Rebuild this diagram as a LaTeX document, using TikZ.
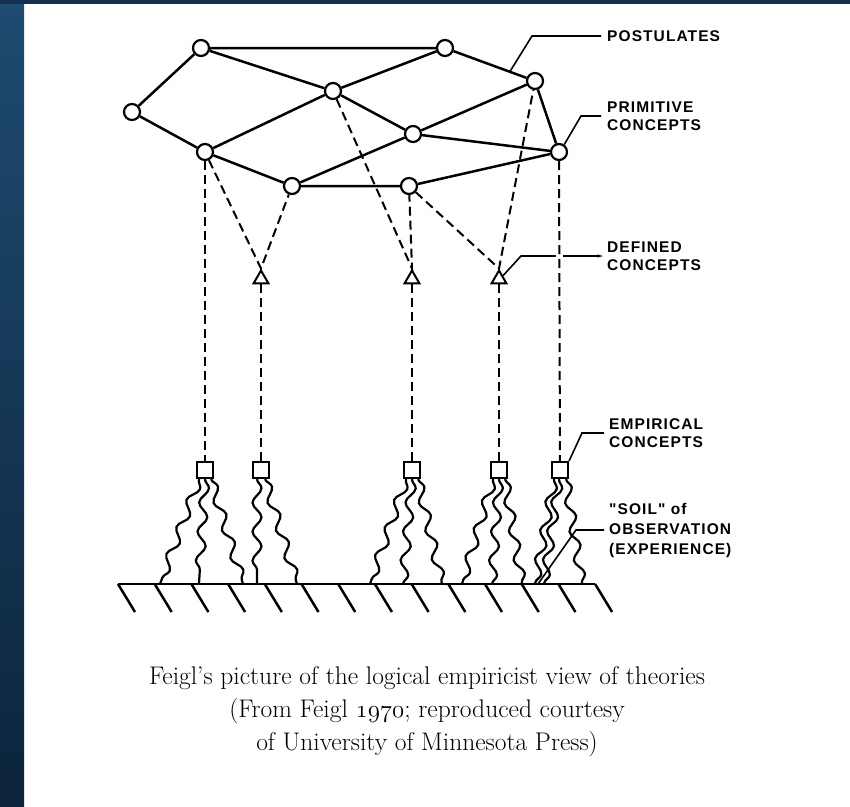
\documentclass[tikz,border=0pt]{standalone}
\usepackage{fontspec}
\newfontfamily\labfont[LetterSpace=7]{Liberation Sans}
\usetikzlibrary{arrows.meta, calc, shapes.geometric, decorations.pathmorphing}
\definecolor{frametop}{RGB}{30,75,112}
\definecolor{framebot}{RGB}{12,36,60}
\definecolor{framebar}{RGB}{20,50,80}

\begin{document}
\begin{tikzpicture}[x=1pt, y=-1pt,
    concept/.style={circle, draw, fill=white, inner sep=0pt, minimum size=16pt, line width=2.2pt},
    defined/.style={regular polygon, regular polygon sides=3, draw, inner sep=0pt, minimum size=17pt, line width=2pt},
    empirical/.style={rectangle, draw, inner sep=0pt, minimum size=16pt, line width=2.2pt},
    axiom/.style={line width=2.5pt},
    ruleline/.style={dash pattern=on 9pt off 5pt, line width=2pt},
    wave/.style={decorate, decoration={snake, amplitude=4.5pt, segment length=29pt}, line width=2.2pt},
    lab/.style={anchor=west, align=left, inner sep=0pt, font=\labfont\bfseries\fontsize{15.5}{18}\selectfont},
    lead/.style={line width=1.6pt}]
    \useasboundingbox (0,0) rectangle (850,806);

    % frame
    \fill[top color=frametop, bottom color=framebot] (0,0) rectangle (24,806);
    \fill[framebar] (0,0) rectangle (850,4);

    % theory net
    \node[concept] (1) at (201,48) {};
    \node[concept] (2) at (445,48) {};
    \node[concept] (3) at (132,112) {};
    \node[concept] (4) at (333,91) {};
    \node[concept] (5) at (535,81) {};
    \node[concept] (6) at (413,134) {};
    \node[concept] (7) at (559,152) {};
    \node[concept] (8) at (205,152) {};
    \node[concept] (9) at (292,186) {};
    \node[concept] (10) at (409,186) {};

    \draw[axiom] (2) -- (1) -- (3) -- (8) -- (9) -- (10) -- (7) -- (5) -- (2) -- (4) -- (1);
    \draw[axiom] (8) -- (4) -- (6) -- (7);
    \draw[axiom] (9) -- (6) -- (5);

    % defined and empirical concepts
    \node[defined] (d1) at (261,279) {};
    \node[defined] (d2) at (412,279) {};
    \node[defined] (d3) at (499,279) {};

    \node[empirical] (e1) at (205,470) {};
    \node[empirical] (e2) at (261,470) {};
    \node[empirical] (e3) at (412,470) {};
    \node[empirical] (e4) at (499,470) {};
    \node[empirical] (e5) at (560,470) {};

    \draw[ruleline] (8) -- (d1.corner 1) -- (9);
    \draw[ruleline] (4) -- (d2.corner 1) -- (10) -- (d3.corner 1) -- (5);
    \draw[ruleline] (8) -- (e1);
    \draw[ruleline] (d1.side 2) -- (e2);
    \draw[ruleline] (d2.side 2) -- (e3);
    \draw[ruleline] (d3.side 2) -- (e4);

    % soil
    \coordinate (gl) at (118,584);
    \coordinate (gr) at (595,584);
    \draw[axiom] (gl) -- (gr);
    \foreach \i in {0,...,13}
        \draw[axiom] ($(gl)+(\i*36.7,0)$) -- ++(17,28);

    \foreach \s/\dx/\gx in {e1/-6/160, e1/0/199, e1/6/243, e2/-4/257, e2/4/297,
            e3/-6/370, e3/0/403, e3/6/442, e4/-6/462, e4/0/492, e4/6/522,
            e5/-6/535, e5/-1/544, e5/6/582}
        \draw[wave] ([xshift=\dx pt]\s.south) -- (\gx,0 |- gl);

    % labels
    \node[lab] (post) at (607,36) {POSTULATES};
    \node[lab] (prim) at (607,116) {PRIMITIVE\\CONCEPTS};
    \node[lab] (defd) at (607,256) {DEFINED\\CONCEPTS};
    \node[lab] (emp) at (609,433) {EMPIRICAL\\CONCEPTS};
    \node[lab, font=\labfont\bfseries\fontsize{15.5}{20}\selectfont] (soil) at (609,530)
        {"SOIL" of\\OBSERVATION\\(EXPERIENCE)};

    \draw[lead] ([xshift=-6pt]post.west) -- ++(-69,0) -- ($(2)!0.72!(5)$);
    \draw[lead] ([xshift=-6pt]prim.west) -- ++(-20,0) -- (7.55);
    \draw[lead, {Stealth[length=6pt, width=3pt]}-] ([xshift=-4pt]defd.west) -- ++(-82,0) -- (d3.40);
    \draw[lead] ([xshift=-5pt]emp.west) -- ++(-22,0) -- (e5.north east);
    \draw[lead] ([xshift=-5pt]soil.west) -- ++(-28,0) -- (538,0 |- gl);

    % crosses the DEFINED leader with a gap
    \draw[ruleline, preaction={draw=white, solid, line width=7pt}] (7) -- (e5);

    \node[align=center, font=\fontsize{25.5}{33}\selectfont] (cap) at (427,712)
        {Feigl's picture of the logical empiricist view of theories\\
         (From Feigl $\mathnormal{1970}$; reproduced courtesy\\
         of University of Minnesota Press)};
\end{tikzpicture}
\end{document}
